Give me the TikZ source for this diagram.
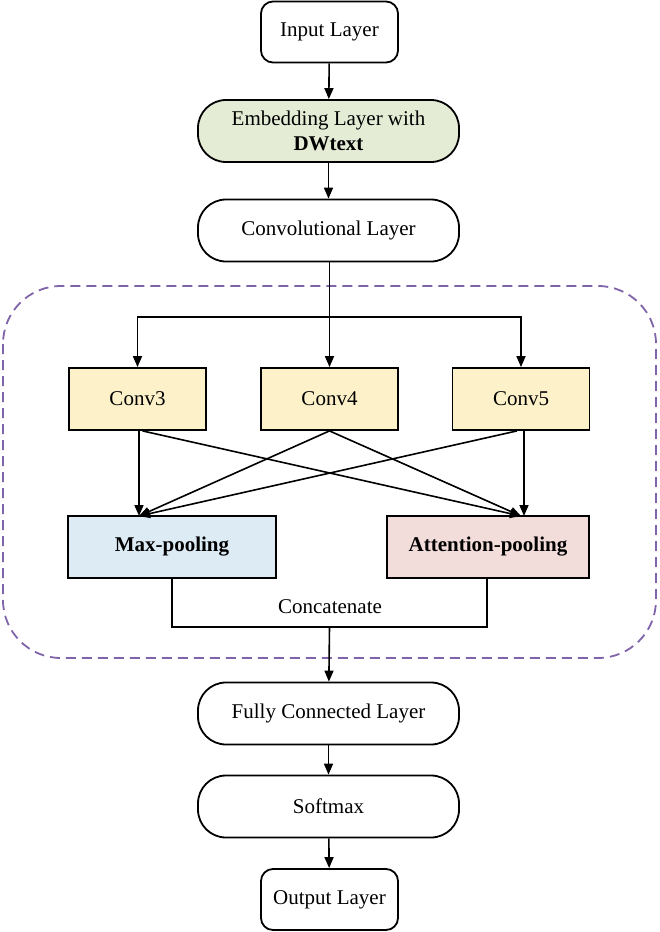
\documentclass[tikz,border=0pt]{standalone}
\usepackage{fontspec}
\setmainfont{Liberation Serif}
\usetikzlibrary{arrows.meta,calc}
\definecolor{embfill}{RGB}{229,236,214}
\definecolor{convfill}{RGB}{252,241,201}
\definecolor{maxfill}{RGB}{221,235,245}
\definecolor{attfill}{RGB}{242,221,219}
\definecolor{dashcol}{RGB}{128,100,170}
\begin{document}
\begin{tikzpicture}[x=1pt,y=-1pt,
  every node/.style={font=\fontsize{21}{25}\selectfont, inner sep=0pt, align=center},
  smallbox/.style={draw, line width=1.8pt, rounded corners=12pt, minimum width=137pt, minimum height=61pt},
  widebox/.style={draw, line width=1.8pt, rounded corners=28pt, minimum width=261pt, minimum height=62pt},
  convbox/.style={draw, line width=1.8pt, fill=convfill, minimum width=137pt, minimum height=62pt},
  poolbox/.style={draw, line width=1.8pt, minimum height=62pt, font=\fontsize{21}{25}\selectfont\bfseries},
  arr/.style={line width=1.6pt, -{Triangle[length=11pt,width=9pt]}},
  ln/.style={line width=1.6pt}
]
\useasboundingbox (0,0) rectangle (659,932);
% dashed frame
\draw[dashcol, line width=1.8pt, dash pattern=on 10pt off 6pt, rounded corners=58pt] (3,286) rectangle (656,658);

\node[smallbox] (in) at (329.5,32) {Input Layer};
\node[widebox, fill=embfill] (emb) at (328.5,131) {Embedding Layer with\\\textbf{DWtext}};
\node[widebox] (cl) at (328.5,230.5) {Convolutional Layer};

\node[convbox] (c3) at (137.5,399) {Conv3};
\node[convbox] (c4) at (329.5,399) {Conv4};
\node[convbox] (c5) at (521,399) {Conv5};

\node[poolbox, fill=maxfill, minimum width=208pt] (mp) at (172,547) {Max-pooling};
\node[poolbox, fill=attfill, minimum width=202pt] (ap) at (488,547) {Attention-pooling};

\node[widebox] (fc) at (328.5,713.5) {Fully Connected Layer};
\node[widebox] (sm) at (328.5,806.5) {Softmax};
\node[smallbox] (out) at (329.5,899.5) {Output Layer};

\draw[arr] (in) -- (emb);
\draw[arr] (emb) -- (cl);

% branching
\coordinate (br) at (329.5,317);
\draw[ln] (cl.south -| c4) -- (br);
\draw[arr] (br) -- (c4);
\draw[arr] (br) -| (c3);
\draw[arr] (br) -| (c5);

% pool inputs
\coordinate (mtop) at (139,516);
\coordinate (atop) at (521,516);
\draw[arr] (c3.south -| mtop) -- (mtop);
\draw[arr] ($(c3.south)+(5,0)$) -- (atop);
\draw[arr] (c4.south) -- (mtop);
\draw[arr] (c4.south) -- (atop);
\draw[arr] ($(c5.south)+(-4,0)$) -- (mtop);
\draw[arr] ($(c5.south)+(3,0)$) -- ($(atop)+(3,0)$);

% concatenate
\coordinate (cj) at (329.5,627);
\draw[ln] (mp.south -| 172,0) |- (cj) -| (ap.south -| 487,0);
\node (cat) at (330,607) {Concatenate};
\draw[arr] (cj) -- (fc);
\draw[arr] (fc) -- (sm);
\draw[arr] (sm) -- (out);
\end{tikzpicture}
\end{document}
